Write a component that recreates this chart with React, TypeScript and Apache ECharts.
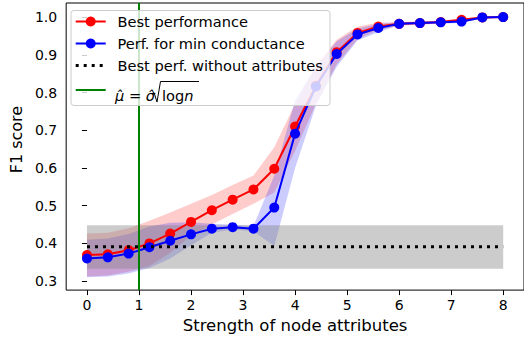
import { useEffect, useRef } from 'react';
import * as echarts from 'echarts';

// ---- data ----
const strengths = [0, 0.4, 0.8, 1.2, 1.6, 2.0, 2.4, 2.8, 3.2, 3.6, 4.0, 4.4, 4.8, 5.2, 5.6, 6.0, 6.4, 6.8, 7.2, 7.6, 8.0];

const bestPerf = [0.369, 0.371, 0.382, 0.400, 0.426, 0.457, 0.488, 0.516, 0.543, 0.598, 0.710, 0.818, 0.907, 0.958, 0.975, 0.982, 0.984, 0.987, 0.993, 0.999, 1.000];
const bestLow = [0.312, 0.315, 0.325, 0.340, 0.375, 0.420, 0.450, 0.478, 0.505, 0.535, 0.645, 0.770, 0.875, 0.942, 0.966, 0.977, 0.980, 0.983, 0.990, 0.997, 0.999];
const bestHigh = [0.426, 0.428, 0.440, 0.460, 0.482, 0.505, 0.528, 0.555, 0.580, 0.655, 0.770, 0.870, 0.940, 0.975, 0.985, 0.987, 0.988, 0.991, 0.996, 1.001, 1.001];

const minCond = [0.360, 0.363, 0.373, 0.390, 0.407, 0.424, 0.439, 0.443, 0.439, 0.495, 0.691, 0.816, 0.902, 0.954, 0.971, 0.982, 0.984, 0.986, 0.988, 0.999, 1.000];
const minCondLow = [0.310, 0.312, 0.320, 0.335, 0.360, 0.395, 0.428, 0.437, 0.432, 0.393, 0.600, 0.765, 0.868, 0.938, 0.960, 0.978, 0.980, 0.982, 0.984, 0.997, 0.999];
const minCondHigh = [0.410, 0.413, 0.425, 0.445, 0.455, 0.456, 0.452, 0.450, 0.446, 0.580, 0.780, 0.868, 0.936, 0.970, 0.982, 0.986, 0.988, 0.990, 0.992, 1.001, 1.001];

const noAttrX = [0, 8];
const noAttrMean = 0.391;
const noAttrLow = 0.333;
const noAttrHigh = 0.448;

const threshold = 1;

const xTicks = [0, 1, 2, 3, 4, 5, 6, 7, 8];
const yTicks = [0.3, 0.4, 0.5, 0.6, 0.7, 0.8, 0.9, 1.0];

const legendLabels = ['Best performance', 'Perf. for min conductance', 'Best perf. without attributes'];

const FONT = '"DejaVu Sans", sans-serif';

function bandSeries(xs: number[], lo: number[], hi: number[], color: string) {
  return {
    type: 'custom',
    silent: true,
    z: 1,
    encode: { x: 0, y: [1, 2] },
    data: xs.map((x, i) => [x, lo[i], hi[i]]),
    renderItem: (params: any, api: any) => {
      if (params.dataIndex !== 0) return null;
      const pts: number[][] = [];
      for (let i = 0; i < xs.length; i++) pts.push(api.coord([xs[i], hi[i]]));
      for (let i = xs.length - 1; i >= 0; i--) pts.push(api.coord([xs[i], lo[i]]));
      return { type: 'polygon', shape: { points: pts }, style: { fill: color } };
    },
  };
}

export default function App() {
  const ref = useRef<HTMLDivElement>(null);
  useEffect(() => {
    if (!ref.current) return;
    const chart = echarts.init(ref.current, null, { renderer: 'svg' });

    const lx0 = 75.7, lx1 = 105.7, lmid = 90.7, tx = 117.5;
    const ly = [21.5, 43.5, 65.5, 90];
    const legendStyle = { fill: '#000', fontSize: 14.6, fontFamily: FONT, verticalAlign: 'middle' };

    const option: any = {
      animation: false,
      backgroundColor: '#fff',
      grid: {
        left: 63, top: 3, width: 462, height: 288,
        show: true, borderColor: '#000', borderWidth: 1, backgroundColor: 'transparent',
      },
      xAxis: {
        type: 'value', min: -0.4, max: 8.4,
        name: 'Strength of node attributes', nameLocation: 'middle', nameGap: 23,
        nameTextStyle: { fontSize: 16.5, fontFamily: FONT, color: '#000' },
        axisLine: { show: false },
        axisTick: { show: true, length: 5, lineStyle: { color: '#000' }, customValues: xTicks },
        axisLabel: { color: '#000', fontSize: 14, fontFamily: FONT, margin: 8, customValues: xTicks, formatter: (v: number) => String(v) },
        splitLine: { show: false },
      },
      yAxis: {
        type: 'value', min: 0.2762, max: 1.0373,
        name: 'F1 score', nameLocation: 'middle', nameGap: 34, nameRotate: 90,
        nameTextStyle: { fontSize: 16, fontFamily: FONT, color: '#000', padding: [0, 0, 0, 14] },
        axisLine: { show: false },
        axisTick: { show: true, length: 5, lineStyle: { color: '#000' }, customValues: yTicks },
        axisLabel: { color: '#000', fontSize: 14, fontFamily: FONT, margin: 9, customValues: yTicks, formatter: (v: number) => v.toFixed(1) },
        splitLine: { show: false },
      },
      series: [
        bandSeries(strengths, bestLow, bestHigh, 'rgba(255,0,0,0.2)'),
        bandSeries(strengths, minCondLow, minCondHigh, 'rgba(0,0,255,0.2)'),
        bandSeries(noAttrX, [noAttrLow, noAttrLow], [noAttrHigh, noAttrHigh], 'rgba(128,128,128,0.4)'),
        {
          type: 'line', name: legendLabels[0], z: 2,
          data: strengths.map((x, i) => [x, bestPerf[i]]),
          symbol: 'circle', symbolSize: 10, showSymbol: true,
          itemStyle: { color: '#ff0000' }, lineStyle: { color: '#ff0000', width: 2 },
        },
        {
          type: 'line', name: legendLabels[1], z: 3,
          data: strengths.map((x, i) => [x, minCond[i]]),
          symbol: 'circle', symbolSize: 10, showSymbol: true,
          itemStyle: { color: '#0000ff' }, lineStyle: { color: '#0000ff', width: 2 },
        },
        {
          type: 'line', name: legendLabels[2], z: 4,
          data: noAttrX.map((x) => [x, noAttrMean]),
          symbol: 'none',
          lineStyle: { color: '#000', width: 3, type: [3, 5], cap: 'butt' },
        },
        {
          type: 'line', z: 5, data: [],
          markLine: {
            silent: true, symbol: ['none', 'none'], label: { show: false },
            lineStyle: { color: '#008000', width: 2, type: 'solid' },
            data: [{ xAxis: threshold }],
          },
        },
      ],
      graphic: [
        { type: 'rect', z: 100, shape: { x: 71, y: 10.5, width: 259, height: 95, r: 3 },
          style: { fill: 'rgba(255,255,255,0.8)', stroke: '#cccccc', lineWidth: 1 } },
        // entry 1
        { type: 'line', z: 101, shape: { x1: lx0, y1: ly[0], x2: lx1, y2: ly[0] }, style: { stroke: '#ff0000', lineWidth: 2 } },
        { type: 'circle', z: 102, shape: { cx: lmid, cy: ly[0], r: 5 }, style: { fill: '#ff0000' } },
        { type: 'text', z: 101, x: tx, y: ly[0], style: { ...legendStyle, text: legendLabels[0] } },
        // entry 2
        { type: 'line', z: 101, shape: { x1: lx0, y1: ly[1], x2: lx1, y2: ly[1] }, style: { stroke: '#0000ff', lineWidth: 2 } },
        { type: 'circle', z: 102, shape: { cx: lmid, cy: ly[1], r: 5 }, style: { fill: '#0000ff' } },
        { type: 'text', z: 101, x: tx, y: ly[1], style: { ...legendStyle, text: legendLabels[1] } },
        // entry 3
        { type: 'line', z: 101, shape: { x1: lx0, y1: ly[2], x2: lx1, y2: ly[2] },
          style: { stroke: '#000', lineWidth: 3, lineDash: [3, 5], lineCap: 'butt' } },
        { type: 'text', z: 101, x: tx, y: ly[2], style: { ...legendStyle, text: legendLabels[2] } },
        // entry 4
        { type: 'line', z: 101, shape: { x1: lx0, y1: ly[3], x2: lx1, y2: ly[3] }, style: { stroke: '#008000', lineWidth: 2 } },
        { type: 'text', z: 101, x: 115, y: 95.5, style: {
            ...legendStyle, text: '{i|μ\u0302} = {i|σ\u0302}',
            rich: { i: { fontStyle: 'italic', fontSize: 14.6, fontFamily: FONT } } } },
        { type: 'polyline', z: 101, shape: { points: [[152, 93.5], [154, 92.5], [157, 102], [160.5, 81.5], [199, 81.5]] },
          style: { stroke: '#000', lineWidth: 1, fill: null } },
        { type: 'text', z: 101, x: 162, y: 95.5, style: {
            ...legendStyle, text: 'log{i|n}',
            rich: { i: { fontStyle: 'italic', fontSize: 14.6, fontFamily: FONT } } } },
      ],
    };
    chart.setOption(option);
    return () => chart.dispose();
  }, []);
  return <div ref={ref} style={{ position: 'fixed', left: 0, top: 0, width: 524, height: 339 }} />;
}
